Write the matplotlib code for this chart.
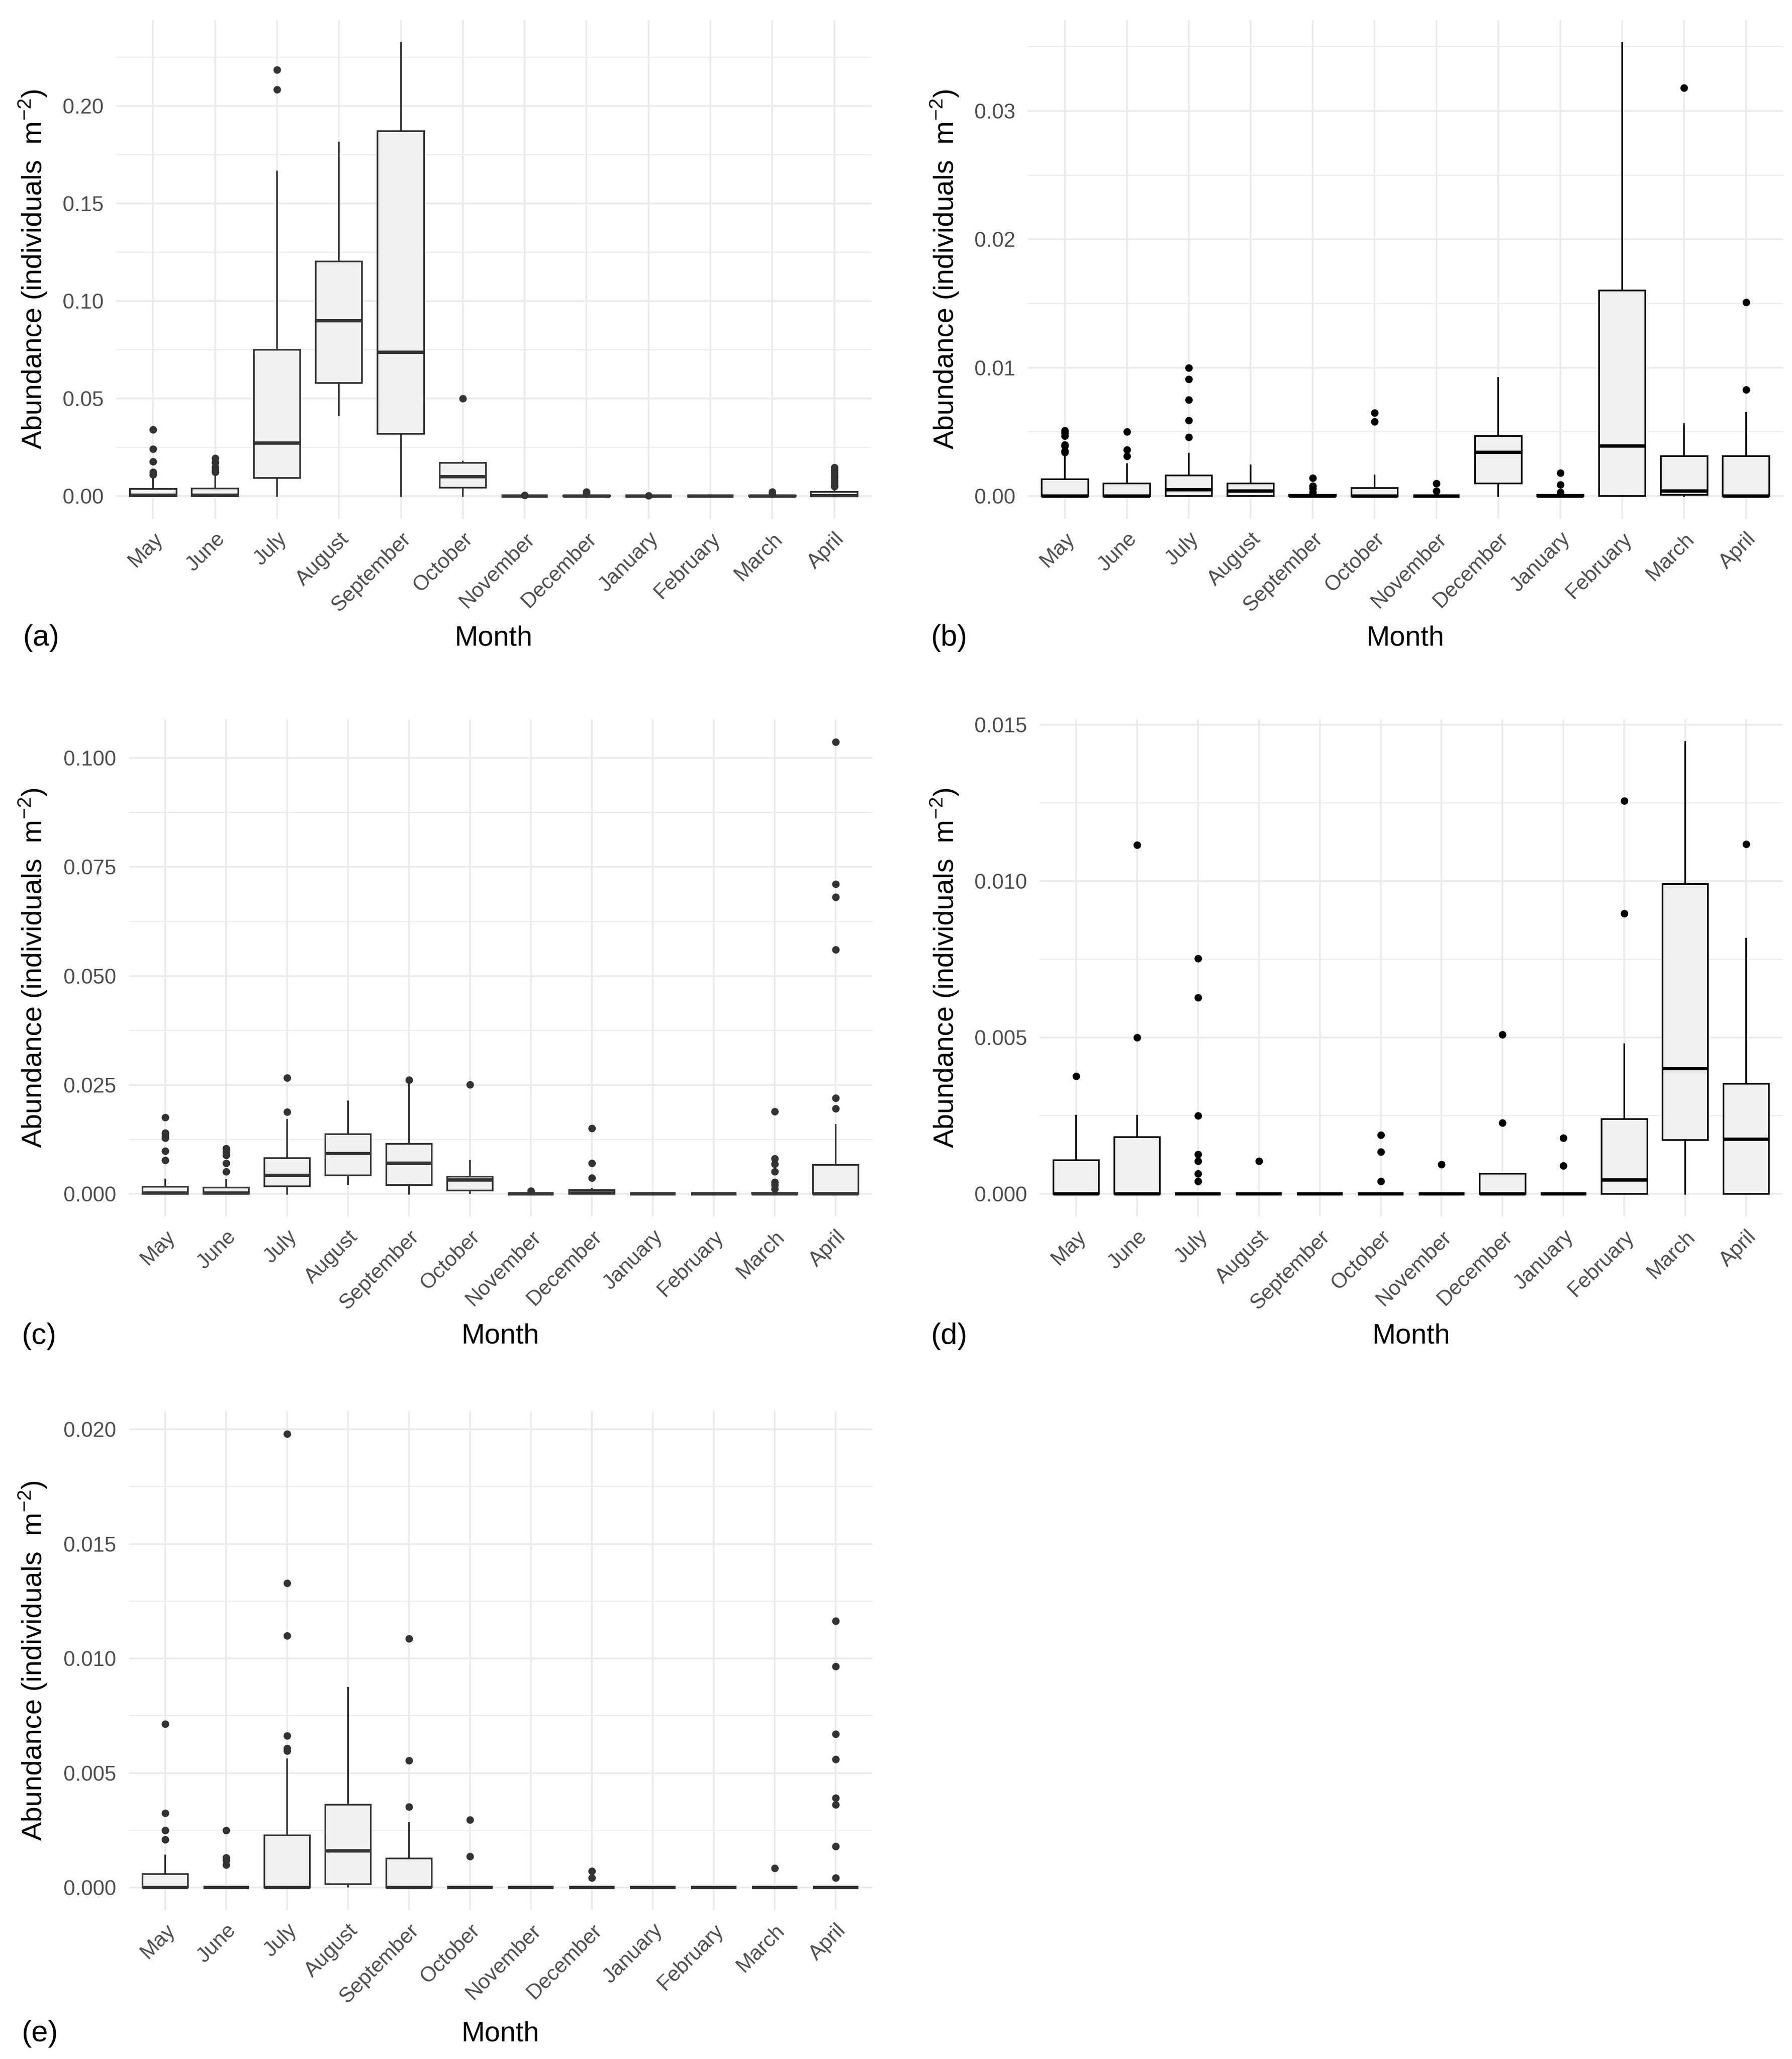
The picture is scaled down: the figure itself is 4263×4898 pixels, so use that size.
"""Monthly abundance box plots, five panels (a)-(e). Saves out.png."""
import matplotlib
matplotlib.use("Agg")
import matplotlib.pyplot as plt
from matplotlib.ticker import MultipleLocator, FormatStrFormatter

plt.rcParams.update({
    "font.family": ["Liberation Sans", "DejaVu Sans"],
    "mathtext.fontset": "custom",
    "mathtext.rm": "Liberation Sans",
    "mathtext.it": "Liberation Sans:italic",
    "mathtext.bf": "Liberation Sans:bold",
})

MONTHS = ["May", "June", "July", "August", "September", "October",
          "November", "December", "January", "February", "March", "April"]

# --- panel (a) ---
A_Q1 = [0, 0, 0.0093, 0.058, 0.032, 0.0044, 0, 0, 0, 0, 0, 0]
A_MED = [0.0004, 0.0004, 0.0271, 0.0899, 0.0737, 0.0100, 0, 0, 0, 0, 0, 0.0003]
A_Q3 = [0.0036, 0.0040, 0.0750, 0.1203, 0.1871, 0.0171, 0, 0.0003, 0, 0, 0.0002, 0.0021]
A_LO = [0, 0, 0, 0.0415, 0, 0, 0, 0, 0, 0, 0, 0]
A_HI = [0.0089, 0.0110, 0.1665, 0.1814, 0.2324, 0.0178, 0, 0.0005, 0, 0, 0.0004, 0.0033]
A_OUT = [[0.034, 0.0242, 0.0178, 0.0122, 0.011],
         [0.0195, 0.0173, 0.015, 0.0133, 0.0122],
         [0.2185, 0.2084], [], [], [0.050], [0.0004], [0.0012, 0.0022],
         [0.0003], [], [0.0012, 0.0021],
         [0.0147, 0.0133, 0.0118, 0.0104, 0.0092, 0.0078, 0.0065, 0.0055, 0.0050]]

# --- panel (b) ---
B_Q1 = [0, 0, 0, 0, 0, 0, 0, 0.0010, 0, 0, 0.0001, 0]
B_MED = [0, 0, 0.0005, 0.0004, 0, 0, 0, 0.0034, 0, 0.0039, 0.0004, 0]
B_Q3 = [0.00131, 0.0010, 0.0016, 0.0010, 0.0001, 0.00064, 0, 0.0047, 0.0001, 0.0160, 0.0031, 0.0031]
B_LO = [0, 0, 0, 0, 0, 0, 0, 0, 0, 0, 0, 0]
B_HI = [0.0032, 0.0025, 0.0033, 0.0024, 0.0002, 0.0016, 0.0001, 0.0092, 0.0002, 0.0353, 0.0056, 0.0065]
B_OUT = [[0.0051, 0.0049, 0.0047, 0.0040, 0.0039, 0.0035, 0.0034],
         [0.0050, 0.0036, 0.0031],
         [0.0100, 0.0091, 0.0075, 0.0059, 0.0046], [],
         [0.0014, 0.0008, 0.0006, 0.0003], [0.0065, 0.0058],
         [0.0010, 0.0004], [], [0.0018, 0.0009, 0.0003], [], [0.0318],
         [0.0151, 0.0083]]

# --- panel (c) ---
C_Q1 = [0, 0, 0.0018, 0.0043, 0.0020, 0.0008, 0, 0, 0, 0, 0, 0]
C_MED = [0.0002, 0.0002, 0.0043, 0.0093, 0.0071, 0.0032, 0, 0.0002, 0, 0, 0, 0]
C_Q3 = [0.0017, 0.0015, 0.0082, 0.0137, 0.0115, 0.0040, 0, 0.0009, 0, 0, 0.0002, 0.0067]
C_LO = [0, 0, 0, 0.0022, 0, 0.0002, 0, 0, 0, 0, 0, 0]
C_HI = [0.0033, 0.0032, 0.0170, 0.0212, 0.0252, 0.0076, 0, 0.0012, 0, 0, 0.0004, 0.0158]
C_OUT = [[0.0176, 0.0140, 0.0133, 0.0128, 0.0099, 0.0077],
         [0.0104, 0.0097, 0.0089, 0.0071, 0.0051],
         [0.0266, 0.0188], [], [0.0262], [0.0251], [0.0007],
         [0.0151, 0.0071, 0.0037], [], [],
         [0.0189, 0.0081, 0.0069, 0.0051, 0.0027, 0.0020, 0.0012],
         [0.1037, 0.0711, 0.0681, 0.0560, 0.0220, 0.0196]]

# --- panel (d) ---
D_Q1 = [0, 0, 0, 0, 0, 0, 0, 0, 0, 0, 0.00172, 0]
D_MED = [0, 0, 0, 0, 0, 0, 0, 0, 0, 0.00045, 0.00401, 0.00175]
D_Q3 = [0.00108, 0.00182, 0, 0, 0, 0, 0, 0.00065, 0, 0.00239, 0.0099, 0.00352]
D_LO = [0, 0, 0, 0, 0, 0, 0, 0, 0, 0, 0, 0]
D_HI = [0.0025, 0.0025, 0, 0, 0, 0, 0, 0.00065, 0, 0.00478, 0.01445, 0.00816]
D_OUT = [[0.00376], [0.0050, 0.01115],
         [0.00753, 0.00628, 0.0025, 0.00127, 0.00105, 0.00065, 0.0004],
         [0.00105], [], [0.00189, 0.00135, 0.0004], [0.00094],
         [0.0051, 0.00227], [0.00179, 0.0009], [0.00897, 0.01256], [],
         [0.01118]]

# --- panel (e) ---
E_Q1 = [0, 0, 0, 0.00015, 0, 0, 0, 0, 0, 0, 0, 0]
E_MED = [0, 0, 0, 0.0016, 0, 0, 0, 0, 0, 0, 0, 0]
E_Q3 = [0.00058, 0, 0.00228, 0.00362, 0.00126, 0, 0, 0, 0, 0, 0, 0]
E_LO = [0, 0, 0, 0.00004, 0, 0, 0, 0, 0, 0, 0, 0]
E_HI = [0.0014, 0, 0.0056, 0.00872, 0.00283, 0, 0, 0, 0, 0, 0, 0]
E_OUT = [[0.00714, 0.00324, 0.0025, 0.0021],
         [0.0025, 0.0013, 0.0012, 0.0010],
         [0.0198, 0.01328, 0.0110, 0.00663, 0.00608, 0.00597],
         [], [0.01087, 0.00554, 0.00352], [0.00296, 0.00136], [],
         [0.00072, 0.00043], [], [], [0.00085],
         [0.01164, 0.00966, 0.0067, 0.00559, 0.0039, 0.00362, 0.00179, 0.00043]]

W, H = 4263, 4898
DPI = 300
FILL = "#F0F0F0"
GRID = "#EBEBEB"
TICK_C = "#4D4D4D"

# name, data, y step, tick format, line colour, axes box (px: l, t, r, b), label px
PANELS = [
    ("(a)", (A_Q1, A_MED, A_Q3, A_LO, A_HI, A_OUT), 0.05, "%.2f", "#333333",
     (276, 48, 2073, 1234), (78, 55, 1518)),
    ("(b)", (B_Q1, B_MED, B_Q3, B_LO, B_HI, B_OUT), 0.01, "%.2f", "#000000",
     (2445, 48, 4242, 1234), (2247, 2215, 1518)),
    ("(c)", (C_Q1, C_MED, C_Q3, C_LO, C_HI, C_OUT), 0.025, "%.3f", "#333333",
     (306, 1711, 2075, 2894), (78, 52, 3179)),
    ("(d)", (D_Q1, D_MED, D_Q3, D_LO, D_HI, D_OUT), 0.005, "%.3f", "#000000",
     (2473, 1711, 4241, 2894), (2247, 2215, 3179)),
    ("(e)", (E_Q1, E_MED, E_Q3, E_LO, E_HI, E_OUT), 0.005, "%.3f", "#333333",
     (306, 3357, 2075, 4544), (78, 52, 4838)),
]

YLABEL = "Abundance (individuals  m$^{-2}$)"


def make_stats(q1, med, q3, lo, hi, out):
    return [dict(q1=a, med=b, q3=c, whislo=d, whishi=e, fliers=f, label=m)
            for a, b, c, d, e, f, m in zip(q1, med, q3, lo, hi, out, MONTHS)]


fig = plt.figure(figsize=(W / DPI, H / DPI), dpi=DPI)

for tag, data, step, fmt, col, (l, t, r, b), (ylx, tagx, texty) in PANELS:
    ax = fig.add_axes([l / W, 1 - b / H, (r - l) / W, (b - t) / H])
    stats = make_stats(*data)
    pos = list(range(1, len(MONTHS) + 1))
    ax.bxp(stats, positions=pos, widths=0.75, patch_artist=True,
           showcaps=False, manage_ticks=False,
           boxprops=dict(facecolor=FILL, edgecolor=col, linewidth=0.95),
           medianprops=dict(color=col, linewidth=1.9, solid_capstyle="butt"),
           whiskerprops=dict(color=col, linewidth=0.95),
           flierprops=dict(marker="o", markerfacecolor=col,
                           markeredgecolor="none", markersize=4.3))

    q1, med, q3, lo, hi, out = data
    vals = lo + hi + [v for o in out for v in o]
    vmin, vmax = min(vals), max(vals)
    pad = 0.05 * (vmax - vmin)
    ax.set_ylim(vmin - pad, vmax + pad)
    ax.set_xlim(0.4, len(MONTHS) + 0.6)

    ax.yaxis.set_major_locator(MultipleLocator(step))
    ax.yaxis.set_minor_locator(MultipleLocator(step / 2))
    ax.yaxis.set_major_formatter(FormatStrFormatter(fmt))
    ax.set_xticks(pos)
    ax.set_xticklabels(MONTHS, rotation=45, ha="right", va="top",
                       rotation_mode="anchor")
    ax.set_axisbelow(True)
    ax.grid(which="major", color=GRID, linewidth=1.0)
    ax.grid(which="minor", axis="y", color=GRID, linewidth=0.55)
    ax.tick_params(which="both", length=0, labelsize=12, labelcolor=TICK_C)
    ax.tick_params(axis="y", pad=7)
    ax.tick_params(axis="x", pad=6)
    for s in ax.spines.values():
        s.set_visible(False)

    yc = 1 - (t + b) / 2 / H
    fig.text(ylx / W, yc, YLABEL, rotation=90, ha="center", va="center",
             fontsize=16)
    fig.text((l + r) / 2 / W, 1 - texty / H, "Month", ha="center",
             va="center", fontsize=16)
    fig.text(tagx / W, 1 - texty / H, tag, ha="left", va="center",
             fontsize=17)

fig.savefig("out.png", dpi=DPI)
